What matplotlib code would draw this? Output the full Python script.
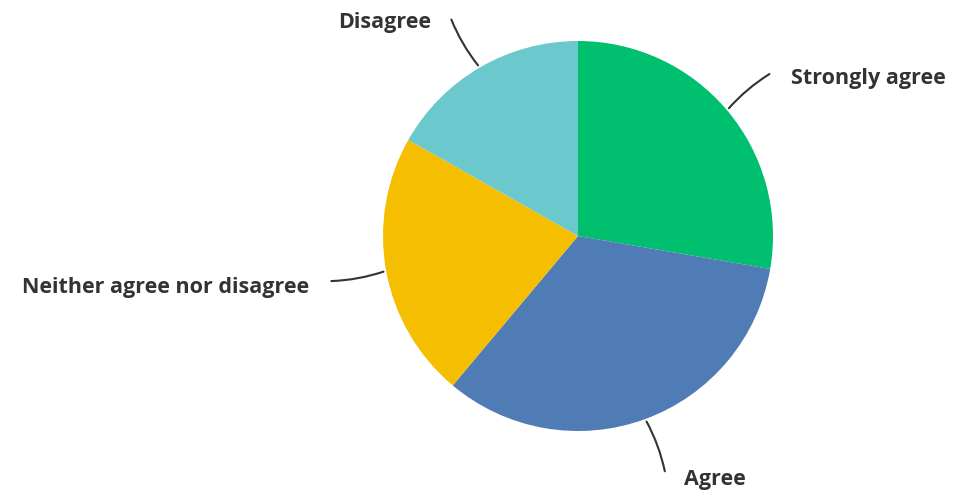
import matplotlib.pyplot as plt
import numpy as np

labels = ['Strongly agree', 'Agree', 'Neither agree nor disagree', 'Disagree']
shares = [27.7, 33.4, 22.1, 16.8]
colors = ['#00BF6F', '#507CB6', '#F6BE00', '#6BC8CD']

W, H = 960, 491
cx, cy, r = 578, H - 236, 195

fig = plt.figure(figsize=(W / 100, H / 100), dpi=100)
ax = fig.add_axes([0, 0, 1, 1])

wedges, _ = ax.pie(shares, colors=colors, startangle=90, counterclock=False,
                   center=(cx, cy), radius=r, frame=True,
                   wedgeprops=dict(linewidth=0))
ax.set_xlim(0, W)
ax.set_ylim(0, H)
ax.set_aspect('equal')
ax.axis('off')

for w, lab in zip(wedges, labels):
    mid = np.deg2rad((w.theta1 + w.theta2) / 2)
    x0, y0 = cx + r * np.cos(mid), cy + r * np.sin(mid)
    x1, y1 = cx + 1.3 * r * np.cos(mid), cy + 1.3 * r * np.sin(mid)
    ax.annotate('', xy=(x0, y0), xytext=(x1, y1),
                arrowprops=dict(arrowstyle='-', color='#333333', lw=1.5,
                                connectionstyle='arc3,rad=0.08'))
    side = 1 if np.cos(mid) > 0 else -1
    ax.text(x1 + side * 19, y1 - 6, lab, ha='left' if side > 0 else 'right',
            va='center', fontsize=15.5, fontweight='bold', color='#333333',
            family='Open Sans')

fig.savefig('out.png', dpi=100, facecolor='white')
